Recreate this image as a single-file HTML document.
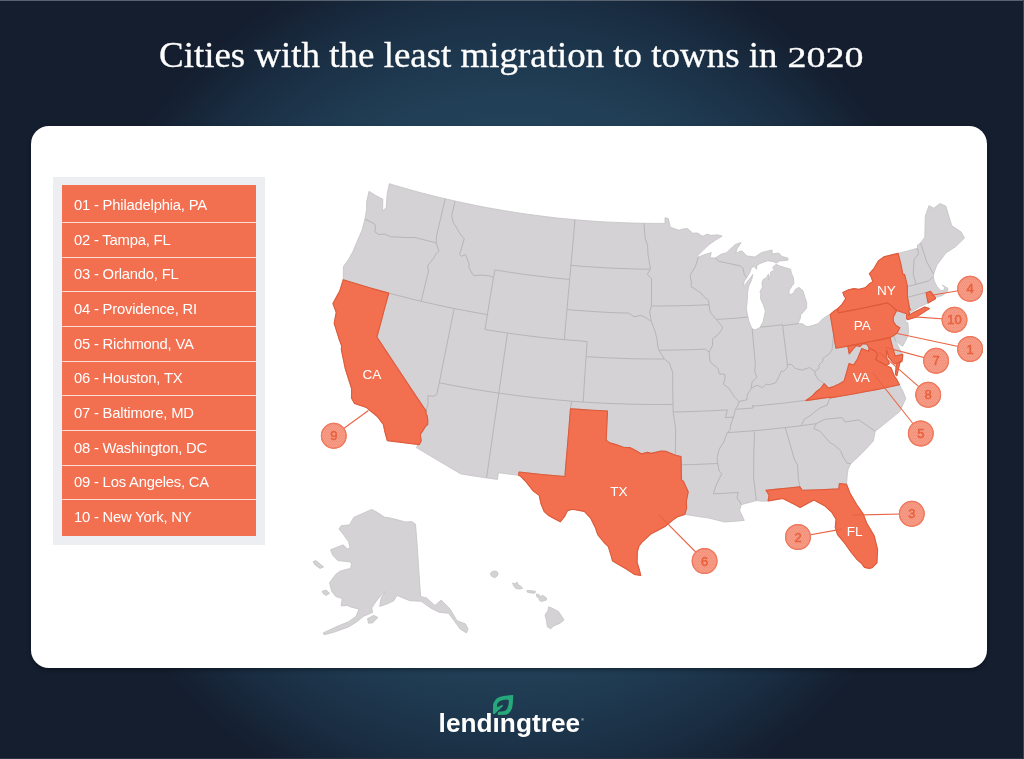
<!DOCTYPE html>
<html lang="en">
<head>
<meta charset="utf-8">
<title>Cities with the least migration to towns in 2020</title>
<style>
html,body{margin:0;padding:0;}
body{width:1024px;height:759px;overflow:hidden;position:relative;background:#141e2f;font-family:"Liberation Sans",sans-serif;}
#bg{position:absolute;left:0;top:0;width:1024px;height:759px;background:radial-gradient(circle 450px at 512px 385px,#25475e 0,#23445b 55%,#1f3b52 70%,#1a2e43 85%,#141e2f 100%);}
#title{position:absolute;left:0;top:0;width:1024px;height:120px;}
#title text{font-family:"Liberation Serif",serif;fill:#fff;stroke:#fff;stroke-width:.3;}
#card{position:absolute;left:31px;top:125.5px;width:956px;height:542px;background:#fff;border-radius:18px;box-shadow:0 2px 4px rgba(0,0,0,.35);}
#list{position:absolute;left:53px;top:177px;width:212px;height:368px;background:#edeef2;}
#rows{position:absolute;left:9px;top:8px;width:194px;height:351px;background:#f26f50;}
.row{position:absolute;left:0;width:194px;height:0;border-top:1px solid #fcddd5;}
.lbl{position:absolute;left:12px;color:#fff;font-size:14.8px;line-height:20px;white-space:nowrap;letter-spacing:-0.2px;margin-top:-3px;}
#map{position:absolute;left:0;top:0;width:1024px;height:759px;}
.land{fill:#d4d2d4;stroke:#c4c3c4;stroke-width:.8;stroke-linejoin:round;}
.bord{fill:none;stroke:#b7b6b7;stroke-width:1;stroke-linejoin:round;}
.hot{fill:#f26f50;stroke:#e05a39;stroke-width:1.1;stroke-linejoin:round;}
.st{font-family:"Liberation Sans",sans-serif;font-size:13.6px;fill:#fff;text-anchor:middle;}
.mk circle{stroke:#ef7a5f;stroke-width:1.1;}
.mk line{stroke:#ea6444;stroke-width:1.1;}
.mk text{font-family:"Liberation Sans",sans-serif;font-size:13px;fill:#e8613f;stroke:#e8613f;stroke-width:.5;text-anchor:middle;}
#logo{position:absolute;left:420px;top:680px;width:190px;height:70px;}
</style>
</head>
<body>
<div id="bg"></div>
<div style="position:absolute;left:0;top:0;width:1024px;height:1px;background:#566270"></div>
<div style="position:absolute;left:1023px;top:0;width:1px;height:759px;background:#3a4554"></div>
<div style="position:absolute;left:0;top:758px;width:1024px;height:1px;background:#2a3343"></div>
<svg id="title" viewBox="0 0 1024 120">
<text x="159" y="67" font-size="35.4" textLength="618.5" lengthAdjust="spacingAndGlyphs" xml:space="preserve">Cities with the least migration to towns in</text>
<text x="787.5" y="67.3" font-size="28.6" textLength="76" lengthAdjust="spacingAndGlyphs">2020</text>
</svg>
<div id="card"></div>
<div id="list"><div id="rows">
<div class="lbl" style="top:13px">01 - Philadelphia, PA</div>
<div class="lbl" style="top:48px">02 - Tampa, FL</div>
<div class="lbl" style="top:82px">03 - Orlando, FL</div>
<div class="lbl" style="top:117px">04 - Providence, RI</div>
<div class="lbl" style="top:152px">05 - Richmond, VA</div>
<div class="lbl" style="top:186px">06 - Houston, TX</div>
<div class="lbl" style="top:221px">07 - Baltimore, MD</div>
<div class="lbl" style="top:256px">08 - Washington, DC</div>
<div class="lbl" style="top:290px">09 - Los Angeles, CA</div>
<div class="lbl" style="top:325px">10 - New York, NY</div>
<div class="row" style="top:37px"></div>
<div class="row" style="top:72px"></div>
<div class="row" style="top:106px"></div>
<div class="row" style="top:141px"></div>
<div class="row" style="top:176px"></div>
<div class="row" style="top:210px"></div>
<div class="row" style="top:245px"></div>
<div class="row" style="top:280px"></div>
<div class="row" style="top:314px"></div>
</div></div>
<svg id="map" viewBox="0 0 1024 759">
<defs><pattern id="dots" width="2" height="3" patternUnits="userSpaceOnUse"><circle cx=".5" cy=".5" r=".42" fill="#ee7e63"/><circle cx="1.5" cy="2" r=".42" fill="#ee7e63"/></pattern></defs>
<path class="land" d="M389.3 183.7L398.9 186.6L408.5 189.3L418.1 192L427.8 194.5L437.5 196.9L447.2 199.2L456.9 201.4L466.7 203.5L476.5 205.6L486.3 207.5L496.1 209.2L505.9 210.9L515.8 212.5L525.7 214L535.6 215.3L545.5 216.6L555.4 217.8L565.3 218.8L575.3 219.7L585.2 220.6L595.2 221.3L605.1 221.9L615.1 222.4L625.1 222.8L635.1 223.1L645.1 223.3L655.1 223.4L665 223.4L665 217.7L668.3 218.6L670.3 227.2L678.9 230.2L682.9 229L687.5 228.6L692.8 233.2L697.4 233L702.7 236.2L707.7 234L710.3 235.3L718 234.9L722.2 236.1L715.3 240.3L709.3 244.4L704.3 249.1L700.3 253.1L697.3 256.2L698.4 256.9L706.7 254L711.3 252.5L710 257.8L715.3 258L721.4 254.1L726.5 252.7L730.4 249L735.3 244.4L740.9 242.6L740 244.4L737.2 248.4L735.5 253.4L740.1 251.2L742.1 251L746.8 255.9L754.9 257L761.5 252.6L772.1 249.9L772 253.9L778.8 253.1L781.9 256.5L788 258L787.8 260.3L784 260.5L779.8 260.9L776.1 263L772.9 261.4L767.5 260.8L759.8 263.6L756.8 265.5L756.6 269.3L754.2 266.5L751.6 267.5L749.5 273L746.7 277.8L744.3 281L743.1 286.4L745.6 283.9L749.5 279L752.9 274.5L751.7 279.6L748.6 286.7L747.5 292.9L747.4 298.2L746.4 309.2L748 317.2L749 321.6L751.1 326.7L752.2 328.9L755.4 329.8L759.2 327.9L760.1 327.2L763.1 321.7L765.4 311.1L763.2 304.5L760.4 298.4L760.8 293.8L760 291.6L762.3 287.6L762 282.3L763.4 279.2L766.2 278.1L768.5 274L768.6 280.4L770.2 275.4L770.9 271.9L774.5 270.3L772.6 267.5L776.2 264.3L779.4 265.9L785.5 267.7L790.6 269.3L791.4 273.3L793.4 277.7L793.9 283.8L792.3 285.5L789.1 290.5L789.1 295.1L793.8 292.9L795.1 289.7L798.8 287.3L803 290.8L805.2 298.2L806.7 302.5L806.6 307.9L803.1 312.5L800.8 314.4L800.2 318.7L798 323.2L803.3 324.1L805.3 326.1L808.2 326.5L811.6 325.8L818.1 323.7L822.5 318.9L827.2 315.8L830.2 314.4L834.5 310.7L837.8 308.6L842 304.3L845.8 298.6L843.8 295.2L842.9 292.5L848.6 289.7L854 288.6L858.7 289.4L865.1 287.8L869.8 283.4L872.8 281.6L871.2 276.9L869.4 273.7L873.9 268.6L878.3 260.9L883.8 257L883.8 256.9L890.9 255.1L898.1 253.4L907.8 250.9L917.4 248.3L917.6 245L920.6 242.9L924.8 237.2L925.3 216.1L929 205.6L933.7 208.2L940.1 203.6L945.8 206.1L951.7 225.6L961.1 231.9L964.5 238L955.8 246.6L945.8 253L936.9 265.1L933.6 274L933.4 277.4L934.2 281.1L936.9 286.3L940.6 290.6L943.7 290.5L944.8 287.4L942.2 285.1L947.8 288.2L947.8 291.1L942.7 295.4L935.4 297.6L935.5 298.8L928.1 302.9L919.5 306.9L909.6 313L908.4 315.5L913.6 312.5L924.8 306.9L929.5 308.6L916.4 316.9L907.6 319.7L906.5 318.4L905.3 321.9L907.9 322.8L908.1 325.8L908.6 332.4L907.3 337.6L902.5 346.4L895.4 340.8L900.2 350L902.7 354.4L902.7 356.8L902 361.1L899.8 362.9L896.8 376L895.4 374.4L896.1 367.1L896.9 363.5L894.9 364L892.5 361.9L888.6 357.4L887.1 350.5L886.4 350.2L886.9 358.1L889.4 363.8L885.8 365.2L891 367.8L894.6 376.6L896.7 379.4L899.5 384.7L903.1 391.7L905.8 398.5L899.9 411.3L887.5 421.5L875.2 431.3L873.4 440.9L862.5 452.7L850.8 463.7L848.1 469.2L847.2 475.5L846.6 484.4L849.9 493L856.8 504.8L863.1 513.7L866.5 522.7L874.2 535.9L877.6 549.7L876.9 562.9L872 567.8L869.3 568.4L864.4 567.4L861.6 563.5L856.9 559.4L851.3 552.5L844.3 542.7L837.5 534.6L835.3 527.6L836 519.2L831.9 512.4L825 506.1L813.9 499.9L800.1 507.5L795.2 504.7L782.8 498.5L768.1 500.9L761.7 501.2L756.4 500.6L751.2 502L741.4 504.6L739.6 510.3L744.3 520.4L735.6 521.2L724.6 522L709 518.1L696.5 516.3L684.8 514.4L677.5 516.8L672.8 520.1L665.5 526.2L656.1 531.2L650.7 534.1L641.8 542.3L639 546L637.3 551.9L637.1 562.3L639.4 569.8L640.7 575.4L634.4 574.4L625.5 568.5L617.3 563.8L612.5 560.9L611.1 555.7L608.3 546.6L603.7 542L597.9 535L595.5 528.1L590.6 518.1L584.3 511.4L572.5 509.2L567.5 510.6L564.6 516.4L560.2 521.8L553.1 518L548.6 515.5L544.3 511.7L541 503.8L539.2 495.4L533 490.7L526.1 481.9L520.2 475.9L518.6 475.3L508.5 474L498.4 472.7L497.5 479.4L486.5 477.9L477.8 476.6L469.1 475.3L460.5 473.8L416.3 447.6L418 444.5L387.3 440.6L385.2 433.2L383.3 424.3L377.3 416.5L366.5 407.6L354.5 403.6L351.5 398.1L351.6 388.5L345.3 368.8L341.3 349.4L341.7 346L338.8 338.2L334.2 323.4L336.2 312.4L332.9 303.6L339.8 290.8L343.2 279.7L343.5 266.4L348.7 259.2L353.1 251.1L356.8 242.3L362 230.2L364.9 219.3L366.6 209.6L366.7 201.6L369 191.3L375.7 195.5L382.8 199.2L382.6 211.1L386.2 207.6L387.2 193.7L389.3 183.7Z"/>
<path class="land" d="M371.7 509.4L376.9 512.1L384.3 517L392.7 518.5L405.4 522L411.7 521.6L415.5 524.1L417 542.7L419.1 574.3L420.6 596.5L426.5 597.9L434.9 605.5L441.2 600L450.1 609.1L457 620.7L465.5 623.9L468 629.1L466.5 632.9L460.2 629.1L454.9 621.7L448.6 613.3L439.1 612.3L430.7 608L421.2 601.3L409.6 600.7L397 595.4L393.8 600.7L387.5 603.8L379.7 606.4L381.2 597.5L385.4 591.6L381.2 595L375.9 601.7L371.7 608L372.7 612.3L363.2 616.5L356.9 621.7L348.5 627L333.7 632.3L324.2 634.8L323.2 632.9L335.8 627L348.5 621.7L355.9 616.5L359 609.1L350.6 607L347.4 605.5L341.1 605.9L342.2 598.6L335.8 596.5L331.6 591.2L329.5 582.7L335.8 574.3L340.1 571.2L345.3 569.7L350.6 568.4L351.6 562.7L348.5 561.7L337.9 560.6L332.7 555.3L330.6 549.7L343.2 544.8L347.4 549L350.2 548L348.5 541.6L343.2 534.3L339 529L341.1 525.8L349.5 524.8L353.8 517.4L363.2 513.2Z"/>
<path class="land" d="M313.1 561.7L315.8 560.6L321.1 564.8L323.6 566.9L320 568.4L314.8 564.8Z"/>
<path class="land" d="M322.1 591.2L326.3 590.1L329.5 593.3L326.3 595.4L323.2 593.7Z"/>
<path class="land" d="M367.5 618.6L373.8 615.4L378 617.5L372.7 622.8L368.5 623.2Z"/>
<path class="land" d="M490.2 573.7L492.1 571.4L496.3 571.1L498.1 573.2L497.4 575.8L494.8 577.7L491.6 576.3Z"/>
<path class="land" d="M512.5 583.2L515.3 583.7L516.9 581.9L518.5 584.8L521.6 586.9L522.4 588.5L519.5 589L515.8 588.5L513.7 585.8Z"/>
<path class="land" d="M526.9 590.6L530.6 590.6L535.8 591.4L534.8 593.2L530.6 592.9L527.2 592.1Z"/>
<path class="land" d="M536.4 594.2L538.5 594.2L540.6 596.4L542.7 595.3L546.4 597.9L546.4 600L541.6 601.6L539.5 600.6L539 597.9L536.9 596.9Z"/>
<path class="land" d="M548.5 606.9L551.7 607.9L558.5 611.6L564 619.9L560.1 623.2L553.8 625.9L550.8 628.7L547.4 626.9L546.4 620.1L545 615.3L548 610.6Z"/>
<path class="bord" d="M364.9 219.3L370.7 221.9L373.1 223.1L375.3 224.9L375.3 228.8L374.9 231.8L379.1 234.6L384.8 234L390.7 236.9L397.3 237L403.8 237.4L410.3 237.6L414.8 237.5L425.1 240.1L436.2 242.8M445.3 198.8L441.8 213.3L438.4 227.9L436.4 236.3L436.2 242.8M436.2 242.8L438.9 251.1L436.1 253.6L433.2 259.1L427.7 265.5L428.5 271.9L427.5 274.8L421.2 301.3M343.2 279.7L352.3 282.5L361.4 285.3L370.5 288L379.6 290.6L388.8 293.1M388.8 293.1L399.6 295.9L410.4 298.7L421.2 301.3M421.2 301.3L432.2 303.8L443.2 306.2L454.2 308.5L465.2 310.6L476.3 312.7L487.4 314.6M388.8 293.1L384.8 307.7L380.9 322.4L376.9 337L388.3 354.4L400.9 373.3L413 391.6L426.1 411M426.1 411L426 413.5L427.1 415.6L427.8 419.9L427.7 424.5L425.5 426.4L422.2 431.8L420.3 434.5L421.2 440.9L419.2 444.6L418 444.5M426.1 411L428 403.7L427.9 395.6L433.3 396.3L436.7 394.7L439.3 382.8M439.3 382.8L442.2 367.9L445.2 353.1L448.2 338.2L451.2 323.3L454.2 308.5M439.3 382.8L451.1 385.1L463 387.3L474.9 389.4L486.8 391.3L498.8 393.1M498.8 393.1L509.1 394.5L519.5 395.9L529.9 397.1L540.3 398.3L550.7 399.3L561.1 400.3L571.6 401.2M571.6 401.2L582.8 402L594.1 402.7L605.3 403.3L616.6 403.7L627.9 404.1L639.1 404.3L650.4 404.5L661.7 404.5L673 404.4M498.8 393.1L501 378.1L503.1 363.1L505.3 348.1L507.5 333M484.9 329.5L496.2 331.3L507.5 333M484.9 329.5L487.4 314.6L489.8 299.6L493.5 277.6M493.5 277.6L488.9 275.7L480.2 275L474 275.8L472.6 274.3L468.9 267.5L469.1 263.7L465.5 254.5L461.3 256.3L459.5 254.5L461 249.8L464.3 238.9L460 233.9L456.9 228.2L453.3 222.8L451.7 215.9L455 201M494.8 269.9L505.5 271.6L516.1 273.2L526.8 274.7L537.5 276L548.2 277.3L558.9 278.4L569.7 279.4M493.5 277.6L494.8 269.9M575 219.7L573.7 234.6L572.4 249.5L570.9 265.3L569.7 279.4L568.3 294.5L567 309.5L565.6 324.6L564.3 339.7M507.5 333L518.8 334.6L530.2 336.1L541.5 337.4L552.9 338.6L564.3 339.7L575.7 340.6L587.1 341.5M587.1 341.5L586.1 356.6M586.1 356.6L597.3 357.3L608.5 357.9L619.6 358.3L630.8 358.7L642 358.9L653.2 359L664.4 359M586.1 356.6L585.1 371.7L584.1 386.9L583.2 402M570.9 265.3L580.9 266.2L590.8 266.9L600.7 267.5L610.6 268.1L620.6 268.5L630.5 268.8L640.5 269.1L650.4 269.2M567 309.5L577.2 310.4L587.5 311.1L597.7 311.8L608 312.4L618.3 312.8L628.6 313.1L634 316.8L640.7 315.4L645.2 317.3L648.5 319.6L651.3 321.3M644 223.3L645.1 238.2L647.6 245.7L648 254.7L650.4 268.3L650.4 269.2M650.4 269.2L647.3 274.3L651.5 278.8L651.5 290.9L651.4 306M651.4 306L661 306L670.6 305.9L680.2 305.7L689.8 305.5L699.4 305.1L709 304.7M651.4 306L649.7 312L651.3 321.3M651.3 321.3L655.2 331.7L657.1 340L658 347.6L658.9 350.2L664.4 359M664.4 359L669.1 362.7L672.7 372.2L672.7 389.2L673 404.4L673.1 412M658.9 350.2L668.3 350.1L677.6 350L686.9 349.8L696.2 349.5L705.4 349.1L709.2 352M698.4 256.9L695.6 266L690.1 275.3L691.4 282.8L691 286.6L696.6 290.1L701 293L703.9 296.6L708.5 300.2L709 304.7M709 304.7L710.2 312.2L716.2 319.4L722.3 326.6L721.9 329.7L718.2 334.5L712.7 338.6L712.5 345.4L709.2 352M715.3 258L718.5 261.3L729.4 263.5L740.3 266L743.1 268.3L744.2 274.2L746.7 277.8M716.2 319.4L726.8 318.8L737.4 318L748 317.1M709.2 352L709.7 358.8L710.5 362.2L718.1 368.7L719.3 373.9L724.7 374.3L725.1 377.7L723.5 384.3L729.2 388.5L734.6 397.2L739.1 401.5M739.1 401.5L737.6 406.1L735.4 409.3L734.5 413.2L733.5 417.1M673.1 412L684 411.8L694.8 411.4L705.7 411L716.6 410.5L727.5 409.9L725.3 417.6L733.5 417.1M733.5 417.1L730.9 424.1L729.8 430.5L727.1 432.7L723.9 441.9L719.2 449L717.1 457.4L717.8 463.5M717.8 463.5L719.1 470.9L721.8 473.5L716 485.4L713.4 493.9L725.8 493.2L738.2 492.4L737 497.8L741.4 504.6M681.2 464.8L693.4 464.5L705.6 464L717.8 463.5M673.1 412L675.6 428.6L675.4 455.2M606.2 440.3L609.8 442.9L616 444.6L623.5 447.2L629.8 447.6L634.8 450L641.6 453.9L647.4 452.4L651.1 453.4L661.2 451L666.3 451.4L675.4 455.2M675.4 455.2L681 456.5L681.2 464.8L681.5 479.9L683.4 481.3L688.2 491.8L686.4 500.8L686.6 508.3L684.8 514.4M606.2 440.3L606.8 426.1L607.5 411L598.2 410.5L589 410L579.7 409.4L570.5 408.7M570.5 408.7L571.6 401.2M570.5 408.7L568.7 431.3L567.4 446.4L566.1 461.5L564.9 476.5L553.4 475.5L541.9 474.5L530.5 473.3L519 472L518.6 475.3M498.8 393.1L496.6 408.1L494.4 423.1L492.3 438L490.1 453L488 467.9L486.5 477.9M753.1 430.8L754.5 432.2L753.8 453.5L753.6 477.7L756.4 500.6M785.3 427.6L789.5 442.3L794.3 459L797.5 464.8L798.4 479.3L799.9 486.7M799.9 486.7L788.6 488L777.3 489.1L766 490.2L769.1 495.2L768.1 500.9M799.9 486.7L802.2 490.3L820.2 489.8L838.8 488.9L839.4 483.5L846.6 484.4M727.1 432.7L739.4 431.8L751.8 430.9L764.2 429.8L776.5 428.5L788.8 427.2L801.1 425.7M801.1 425.7L808.6 424.7L816.2 423.7M735.4 409.3L744.2 408.7L753 408L752.8 405.2L752.9 406.2L763.5 405.2L774.1 404.1L784.6 403L795.2 401.7L805.7 400.3L805.8 400.6L817.8 398.9L829.9 397.1M829.9 397.3L827.2 405.2L820.1 407.8L814.5 412.1L810.1 415.8L804.3 419.2L801.1 425.8M816.2 423.7L824.3 419.4L841 417.6L842.6 418.1L845.1 422L858.8 419.9L875.2 431.3M816.2 423.7L813.7 428.6L819.7 431.1L830.4 443L833.6 444.5L840.6 450.6L842.8 456.3L847.2 463.3L850.8 463.7M830 397.9L841.6 396L853.3 394L864.9 391.8L876.4 389.6L888 387.2L899.5 384.7M805.8 400.6L812.2 395.9L816.5 391.5L820.9 388.1L824.2 383.6M824.2 383.6L828.5 388.1L833.7 386.5L837.9 384.6L844.1 380.9L846.4 373.2L849 363.6L853.5 365.1L857.5 359L861.7 348.6L868.5 351.3L869.2 348.2M824.2 383.6L818.4 379.7L815.3 374.8L814.9 371.5M814.9 371.5L819.1 368.1L818.9 365.1L822.8 361.4L823 358.3L825.1 356.9L828.8 354.3L832 349.9L832.7 343.3L833.2 338.2L833.6 334.4M833.6 334.4L830.2 314.4M833.6 334.4L835.9 348.2M835.9 348.2L841.9 347.2L847.8 346.1M847.8 346.1L858.4 344.1L868.9 342L879.5 339.9L890 337.6M890 337.6L893.6 335.5M890 337.6L892.8 348.1L895.2 356L902.7 354.4M847.8 346.1L849.2 353.9L853.2 349L856.2 345.6L860.1 346.4L862.8 343.6L867.1 344.3L869.2 348.2M869.2 348.2L874.7 350.8L877.7 354.5L875.5 359.6L885.8 365.2M896.9 363.5L902 361.1M814.9 371.5L809.4 367.5L802 370.1L795.2 368.4L791.2 364.3L787.4 364.8L787.2 367.8L783.7 371.3L781.3 371.1L778 378.5L775.4 382.9L769.6 384.6L766 384.2L762.7 387.6L756.8 385.3L751.3 388.3L747.1 394.8L746.9 399.8L739.1 401.5M787.4 364.8L785.8 351.2L783.9 336.2L782.7 325.6M760.1 327.2L771.3 326L782.6 324.7L782.7 325.6L790.4 324.7L798.1 323.6M752.2 328.9L753.8 347L755.4 364.4L754.6 371.3L756.9 377.2L752 382.2L751.3 388.3M837.8 308.6L838.5 312.7L848.3 310.9L858.1 309L867.8 307L877.6 304.9L887.3 302.7M887.3 302.7L891.1 305.4L896.7 310.5M896.7 310.5L906.8 313.7L906.5 318.4M896.7 310.5L893.2 317.2L893.4 321.6L896.1 325.6L899.9 327.8L896.9 333.2L893.6 335.5M893.6 335.5L895.4 340.8M909.6 313L908.3 311.7L910.7 309.4L909.6 308.3L907.5 297.1M907.5 297.1L907.4 286.2M907.4 286.2L904.6 274.5L902.8 274.1L901.1 265.2L898.1 253.4M907.5 297.3L916.8 294.9L926 292.5M926.1 292.8L930.6 291.4L935.4 297.6M926.1 292.8L928.1 302.9M907.5 286.5L918.1 283.8L928.6 280.9L929.1 280.6L932.3 277.5L933.4 277.4M916.1 284.3L913.2 274L914.2 259.3L918.5 253.9L917.4 248.3M933.6 274L926.9 262.3L920.6 242.9"/>
<path class="hot" d="M387.3 440.6L385.2 433.2L383.3 424.3L377.3 416.5L366.5 407.6L354.5 403.6L351.5 398.1L351.6 388.5L345.3 368.8L341.3 349.4L341.7 346L338.8 338.2L334.2 323.4L336.2 312.4L332.9 303.6L339.8 290.8L343.2 279.7L352.3 282.5L361.4 285.3L370.5 288L379.6 290.6L388.8 293.1L384.8 307.7L380.9 322.4L376.9 337L388.3 354.4L400.9 373.3L413 391.6L426.1 411L426 413.5L427.1 415.6L427.8 419.9L427.7 424.5L425.5 426.4L422.2 431.8L420.3 434.5L421.2 440.9L419.2 444.6L418 444.5L387.3 440.6Z"/>
<path class="hot" d="M684.8 514.4L677.5 516.8L672.8 520.1L665.5 526.2L656.1 531.2L650.7 534.1L641.8 542.3L639 546L637.3 551.9L637.1 562.3L639.4 569.8L640.7 575.4L634.4 574.4L625.5 568.5L617.3 563.8L612.5 560.9L611.1 555.7L608.3 546.6L603.7 542L597.9 535L595.5 528.1L590.6 518.1L584.3 511.4L572.5 509.2L567.5 510.6L564.6 516.4L560.2 521.8L553.1 518L548.6 515.5L544.3 511.7L541 503.8L539.2 495.4L533 490.7L526.1 481.9L520.2 475.9L518.6 475.3L519 472L530.5 473.3L541.9 474.5L553.4 475.5L564.9 476.5L566.1 461.5L567.4 446.4L568.7 431.3L570.5 408.7L579.7 409.4L589 410L598.2 410.5L607.5 411L606.8 426.1L606.2 440.3L609.8 442.9L616 444.6L623.5 447.2L629.8 447.6L634.8 450L641.6 453.9L647.4 452.4L651.1 453.4L661.2 451L666.3 451.4L675.4 455.2L681 456.5L681.2 464.8L681.5 479.9L683.4 481.3L688.2 491.8L686.4 500.8L686.6 508.3L684.8 514.4Z"/>
<path class="hot" d="M846.6 484.4L849.9 493L856.8 504.8L863.1 513.7L866.5 522.7L874.2 535.9L877.6 549.7L876.9 562.9L872 567.8L869.3 568.4L864.4 567.4L861.6 563.5L856.9 559.4L851.3 552.5L844.3 542.7L837.5 534.6L835.3 527.6L836 519.2L831.9 512.4L825 506.1L813.9 499.9L800.1 507.5L795.2 504.7L782.8 498.5L768.1 500.9L769.1 495.2L766 490.2L777.3 489.1L788.6 488L799.9 486.7L802.2 490.3L820.2 489.8L838.8 488.9L839.4 483.5L846.6 484.4Z"/>
<path class="hot" d="M830.2 314.4L834.5 310.7L837.8 308.6L838.5 312.7L848.3 310.9L858.1 309L867.8 307L877.6 304.9L887.3 302.7L891.1 305.4L896.7 310.5L893.2 317.2L893.4 321.6L896.1 325.6L899.9 327.8L896.9 333.2L893.6 335.5L890 337.6L879.5 339.9L868.9 342L858.4 344.1L847.8 346.1L841.9 347.2L835.9 348.2L833.6 334.4L830.2 314.4Z"/>
<path class="hot" d="M837.8 308.6L842 304.3L845.8 298.6L843.8 295.2L842.9 292.5L848.6 289.7L854 288.6L858.7 289.4L865.1 287.8L869.8 283.4L872.8 281.6L871.2 276.9L869.4 273.7L873.9 268.6L878.3 260.9L883.8 257L883.8 256.9L890.9 255.1L898.1 253.4L901.1 265.2L902.8 274.1L904.6 274.5L907.4 286.2L907.5 297.1L909.6 308.3L910.7 309.4L908.3 311.7L909.6 313L908.4 315.5L913.6 312.5L924.8 306.9L929.5 308.6L916.4 316.9L907.6 319.7L906.5 318.4L906.8 313.7L896.7 310.5L891.1 305.4L887.3 302.7L877.6 304.9L867.8 307L858.1 309L848.3 310.9L838.5 312.7L837.8 308.6Z"/>
<path class="hot" d="M926.1 292.8L930.6 291.4L935.4 297.6L935.5 298.8L928.1 302.9L926.1 292.8Z"/>
<path class="hot" d="M847.8 346.1L858.4 344.1L868.9 342L879.5 339.9L890 337.6L892.8 348.1L895.2 356L902.7 354.4L902.7 356.8L902 361.1L896.9 363.5L894.9 364L892.5 361.9L888.6 357.4L887.1 350.5L886.4 350.2L886.9 358.1L889.4 363.8L885.8 365.2L875.5 359.6L877.7 354.5L874.7 350.8L869.2 348.2L867.1 344.3L862.8 343.6L860.1 346.4L856.2 345.6L853.2 349L849.2 353.9L847.8 346.1Z"/>
<path class="hot" d="M891 367.8L894.6 376.6L896.7 379.4L899.5 384.7L888 387.2L876.4 389.6L864.9 391.8L853.3 394L841.6 396L830 397.9L829.9 397.1L817.8 398.9L805.8 400.6L812.2 395.9L816.5 391.5L820.9 388.1L824.2 383.6L828.5 388.1L833.7 386.5L837.9 384.6L844.1 380.9L846.4 373.2L849 363.6L853.5 365.1L857.5 359L861.7 348.6L868.5 351.3L869.2 348.2L874.7 350.8L877.7 354.5L875.5 359.6L885.8 365.2L891 367.8Z"/>
<path class="hot" d="M902 361.1L899.8 362.9L896.8 376L895.4 374.4L896.1 367.1L896.9 363.5L902 361.1Z"/>

<g class="mk">
<line x1="333.8" y1="435.8" x2="368.4" y2="410.5"/><line x1="704.6" y1="561.0" x2="658.6" y2="514.6"/><line x1="798.0" y1="537.0" x2="842.0" y2="529.1"/><line x1="911.8" y1="513.8" x2="852.6" y2="515.1"/><line x1="970.1" y1="288.8" x2="931.6" y2="295.3"/><line x1="954.5" y1="319.8" x2="915.3" y2="316.9"/><line x1="970.1" y1="349.0" x2="897.4" y2="333.5"/><line x1="936.1" y1="360.8" x2="885.6" y2="347.4"/><line x1="928.2" y1="394.8" x2="879.2" y2="352.1"/><line x1="920.8" y1="433.5" x2="872.9" y2="373.0"/>
<circle cx="333.8" cy="435.8" r="12.4" fill="#f59b86"/><circle cx="333.8" cy="435.8" r="12.4" fill="url(#dots)"/><text x="333.8" y="440.4">9</text>
<circle cx="704.6" cy="561.0" r="12.4" fill="#f59b86"/><circle cx="704.6" cy="561.0" r="12.4" fill="url(#dots)"/><text x="704.6" y="565.6">6</text>
<circle cx="798.0" cy="537.0" r="12.4" fill="#f59b86"/><circle cx="798.0" cy="537.0" r="12.4" fill="url(#dots)"/><text x="798.0" y="541.6">2</text>
<circle cx="911.8" cy="513.8" r="12.4" fill="#f59b86"/><circle cx="911.8" cy="513.8" r="12.4" fill="url(#dots)"/><text x="911.8" y="518.4">3</text>
<circle cx="970.1" cy="288.8" r="12.4" fill="#f59b86"/><circle cx="970.1" cy="288.8" r="12.4" fill="url(#dots)"/><text x="970.1" y="293.4">4</text>
<circle cx="954.5" cy="319.8" r="12.4" fill="#f59b86"/><circle cx="954.5" cy="319.8" r="12.4" fill="url(#dots)"/><text x="954.5" y="324.4">10</text>
<circle cx="970.1" cy="349.0" r="12.4" fill="#f59b86"/><circle cx="970.1" cy="349.0" r="12.4" fill="url(#dots)"/><text x="970.1" y="353.6">1</text>
<circle cx="936.1" cy="360.8" r="12.4" fill="#f59b86"/><circle cx="936.1" cy="360.8" r="12.4" fill="url(#dots)"/><text x="936.1" y="365.4">7</text>
<circle cx="928.2" cy="394.8" r="12.4" fill="#f59b86"/><circle cx="928.2" cy="394.8" r="12.4" fill="url(#dots)"/><text x="928.2" y="399.4">8</text>
<circle cx="920.8" cy="433.5" r="12.4" fill="#f59b86"/><circle cx="920.8" cy="433.5" r="12.4" fill="url(#dots)"/><text x="920.8" y="438.1">5</text>
</g>
<text class="st" x="372" y="378.5">CA</text>
<text class="st" x="619" y="495.5">TX</text>
<text class="st" x="854.7" y="535.5">FL</text>
<text class="st" x="861.2" y="382">VA</text>
<text class="st" x="862.3" y="329.5">PA</text>
<text class="st" x="886.4" y="294.5">NY</text>
</svg>
<svg id="logo" viewBox="0 0 190 70">
<text x="18.6" y="52" font-family="Liberation Sans, sans-serif" font-weight="bold" font-size="26.2" fill="#fff" textLength="141.5" lengthAdjust="spacingAndGlyphs">lendingtree</text>
<rect x="71.5" y="28" width="10" height="8.6" fill="#1f3b54"/>
<polygon fill="#27a87a" points="72.94,34.12 73.09,24.11 74.16,21.67 76.60,18.50 79.53,17.03 83.44,16.06 89.30,15.32 93.20,14.98 93.11,18.25 92.81,23.62 92.23,27.53 90.76,30.95 88.32,33.63 85.88,34.86 77.82,34.95 77.82,32.51 79.53,31.54 81.97,31.44 85.39,30.71 87.34,28.51 88.56,24.60 88.91,20.45 87.34,19.47 82.95,19.96 79.53,21.18 77.09,24.11 77.09,27.14 82.56,24.85 83.05,25.97 74.65,33.88"/>
<text x="161.3" y="40.5" font-family="Liberation Sans, sans-serif" font-size="3.5" fill="#fff">®</text>
</svg>
</body>
</html>
